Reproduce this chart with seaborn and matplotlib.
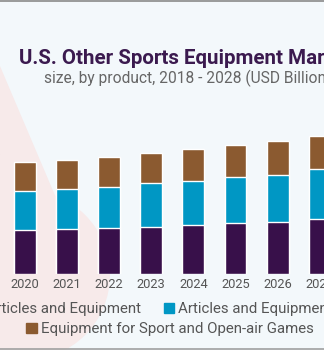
import matplotlib
matplotlib.use("Agg")
import matplotlib.pyplot as plt
import matplotlib.patches as mpatches
import seaborn as sns

years = ["2018", "2019", "2020", "2021", "2022", "2023", "2024", "2025", "2026", "2027", "2028"]
general = [3.50, 3.65, 3.67, 3.75, 3.83, 3.94, 4.08, 4.22, 4.36, 4.56, 4.75]
water = [3.10, 3.27, 3.28, 3.36, 3.44, 3.62, 3.69, 3.83, 3.92, 4.17, 4.35]
open_air = [2.28, 2.35, 2.37, 2.39, 2.45, 2.50, 2.62, 2.67, 2.81, 2.80, 2.90]
labels = ["Golf Articles and Equipment",
          "Articles and Equipment for Water Sports",
          "Equipment for Sport and Open-air Games"]
colors = ["#38104a", "#0097c4", "#8b5a30"]

bg = "#f3f8fb"
pink = "#f7eaea"

sns.set_style("white")
plt.rcParams["font.family"] = ["Roboto", "DejaVu Sans"]

fig = plt.figure(figsize=(3.24, 3.5), dpi=100, facecolor=bg)

# decorative background shapes (pixel -> figure fraction)
W, H = 324, 350
def fp(x, y):
    return (x / W, 1 - y / H)

tri = mpatches.Polygon([fp(0, 66), fp(57, 200), fp(90, 270), fp(0, 330)],
                       closed=True, transform=fig.transFigure,
                       facecolor=pink, edgecolor="none", zorder=-5)
circ = mpatches.Ellipse(fp(25, 275), 170 / W, 170 / H, transform=fig.transFigure,
                        facecolor=pink, edgecolor="none", zorder=-5)
fig.patches.extend([tri, circ])
fig.add_artist(plt.Line2D([0, 1], [1 - 0.5 / H, 1 - 0.5 / H], transform=fig.transFigure,
                          color="#8a8a8a", lw=1.2))
fig.add_artist(plt.Line2D([0, 1], [1.0 / H, 1.0 / H], transform=fig.transFigure,
                          color="#a0a0a0", lw=1.2))

# axes extends beyond the visible crop
ax = fig.add_axes([-80.25 / W, 76 / H, 463.1 / W, 180 / H])
ax.set_facecolor("none")
ax.set_zorder(2)

total = [a + b + c for a, b, c in zip(general, water, open_air)]
lower = [a + b for a, b in zip(general, water)]

sns.barplot(x=years, y=total, color=colors[2], width=0.52, saturation=1, ax=ax)
sns.barplot(x=years, y=lower, color=colors[1], width=0.52, saturation=1, ax=ax)
sns.barplot(x=years, y=general, color=colors[0], width=0.52, saturation=1, ax=ax)

ax.set_xlim(-0.5, 10.5)
ax.set_ylim(0, 15)
ax.set_yticks([])
ax.set_xlabel("")
ax.set_ylabel("")
sns.despine(ax=ax, left=True, bottom=True)
ax.tick_params(axis="x", length=0, pad=3, labelsize=9.3, labelcolor="#555555")

ax.annotate(f"{total[1]:.1f}", (1, total[1]), xytext=(0, 4), textcoords="offset points",
            ha="left", va="baseline", fontsize=9.3, color="#555555")

fig.text(19 / W, 1 - 64 / H, "U.S. Other Sports Equipment Market", fontsize=14.8,
         fontweight="bold", color="#3b1a4f", ha="left", va="baseline", zorder=3)
fig.text(44 / W, 1 - 83.3 / H, "size, by product, 2018 - 2028 (USD Billion)", fontsize=11.2,
         color="#666666", ha="left", va="baseline", zorder=3)

handles = [mpatches.Patch(color=c) for c in colors]
leg1 = fig.legend(handles[:2], labels[:2], loc="center", bbox_to_anchor=(193 / W, 1 - 309 / H),
                  ncol=2, frameon=False, fontsize=10.8, labelcolor="#555555",
                  handlelength=0.7, handleheight=0.7, handletextpad=0.3, columnspacing=1.5,
                  borderaxespad=0, borderpad=0)
leg2 = fig.legend(handles[2:], labels[2:], loc="center", bbox_to_anchor=(170 / W, 1 - 329 / H),
                  ncol=1, frameon=False, fontsize=10.8, labelcolor="#555555",
                  handlelength=0.7, handleheight=0.7, handletextpad=0.3,
                  borderaxespad=0, borderpad=0)

fig.savefig("out.png", dpi=100, facecolor=bg)
